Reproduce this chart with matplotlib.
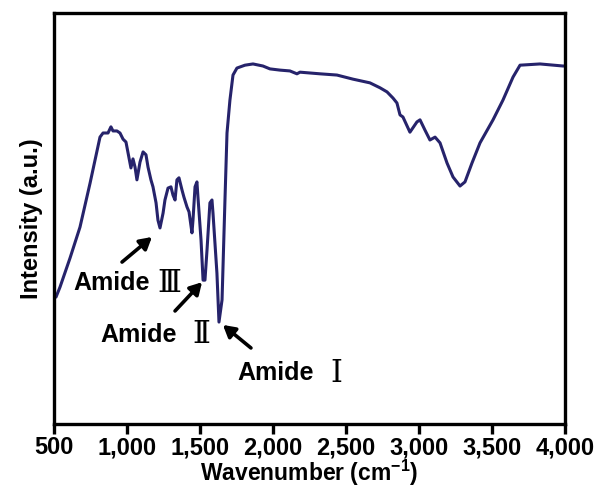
import matplotlib
matplotlib.use("Agg")
import matplotlib.pyplot as plt
from matplotlib.ticker import FuncFormatter

plt.rcParams['font.family'] = ['Liberation Sans', 'DejaVu Sans']
plt.rcParams['mathtext.fontset'] = 'custom'
plt.rcParams['mathtext.rm'] = 'Liberation Sans:bold'
plt.rcParams['mathtext.bf'] = 'Liberation Sans:bold'

wavenumber = [500, 514, 541, 610, 678, 747, 815, 836, 870, 890, 904, 931, 952, 973, 993,
              1014, 1027, 1041, 1055, 1068, 1089, 1110, 1130, 1144, 1164, 1178, 1199, 1212,
              1226, 1247, 1260, 1281, 1301, 1315, 1329, 1342, 1356, 1377, 1390, 1411, 1425,
              1445, 1452, 1466, 1479, 1486, 1507, 1521, 1534, 1548, 1568, 1582, 1589, 1616,
              1630, 1651, 1671, 1685, 1705, 1726, 1753, 1808, 1863, 1931, 1979, 2048, 2116,
              2164, 2185, 2253, 2322, 2438, 2548, 2664, 2733, 2781, 2822, 2849, 2870, 2890,
              2938, 2986, 3007, 3041, 3075, 3110, 3144, 3192, 3233, 3281, 3315, 3363, 3418,
              3507, 3575, 3644, 3692, 3829, 3986, 4000]
intensity = [30.7, 30.9, 33.3, 40.4, 47.9, 58.6, 69.8, 70.8, 70.8, 72.3, 71.3, 71.3, 70.8, 69.3, 68.6,
             64.7, 62.3, 64.5, 62.5, 59.4, 63.7, 66.2, 65.5, 62.5, 59.4, 57.7, 53.8, 49.6,
             47.7, 51.3, 54.5, 57.4, 57.7, 55.7, 54.5, 59.4, 59.9, 56.9, 55.2, 52.8, 51.6,
             46.5, 49.6, 57.7, 58.9, 55.2, 44.8, 35.0, 35.0, 42.3, 53.8, 54.5, 51.3, 36.7,
             24.8, 30.2, 54.5, 70.8, 78.8, 84.9, 86.6, 87.3, 87.6, 87.1, 86.4, 86.1, 85.9,
             85.2, 85.6, 85.4, 85.2, 84.9, 83.9, 83.0, 81.8, 80.8, 79.3, 78.1, 75.2, 74.7,
             71.0, 73.5, 74.0, 71.5, 69.1, 69.8, 68.4, 63.5, 60.1, 57.9, 58.9, 63.5, 68.4,
             74.0, 78.8, 84.4, 87.3, 87.6, 87.1, 87.1]

xticks = [500, 1000, 1500, 2000, 2500, 3000, 3500, 4000]

amide_labels = ["Amide", "Amide", "Amide"]
amide_numerals = ["\u2162", "\u2161", "\u2160"]
arrow_heads = [(1171, 45.5), (1514, 34.5), (1657, 24.1)]
arrow_tails = [(966, 39.4), (1329, 27.5), (1849, 18.5)]
word_x = [630, 815, 1753]
numeral_x = [1205, 1445, 2390]
text_y = [34.3, 21.7, 12.4]

fig = plt.figure(figsize=(5.98, 4.90), dpi=100)
ax = fig.add_axes([0.0903, 0.1347, 0.8545, 0.8388])

ax.plot(wavenumber, intensity, color='#26236b', lw=2.2, solid_joinstyle='round')

ax.set_xlim(500, 4000)
ax.set_ylim(0, 100)
ax.set_xticks(xticks)
ax.xaxis.set_major_formatter(FuncFormatter(lambda v, p: f"{int(v):,}"))
ax.set_yticks([])
for s in ax.spines.values():
    s.set_linewidth(2.4)
ax.tick_params(axis='x', direction='out', length=7, width=2.4, pad=2)
for lab in ax.get_xticklabels():
    lab.set_fontsize(17)
    lab.set_fontweight('bold')

ax.set_xlabel(r"Wavenumber (cm$^{\mathbf{-1}}$)", fontsize=16.5, fontweight='bold', labelpad=-1)
ax.set_ylabel("Intensity (a.u.)", fontsize=17, fontweight='bold', labelpad=8)

for lab, num, head, tail, wx, nx, ty in zip(amide_labels, amide_numerals, arrow_heads,
                                              arrow_tails, word_x, numeral_x, text_y):
    ax.annotate("", xy=head, xytext=tail,
                arrowprops=dict(arrowstyle='-|>,head_length=0.7,head_width=0.4',
                                lw=2.6, color='black', shrinkA=0, shrinkB=0))
    ax.text(wx, ty, lab, fontsize=18, fontweight='bold', ha='left', va='center')
    ax.text(nx, ty, num, fontsize=22, family=['DejaVu Serif', 'Noto Sans CJK SC'],
            ha='left', va='center')

fig.savefig("out.png", dpi=100)
